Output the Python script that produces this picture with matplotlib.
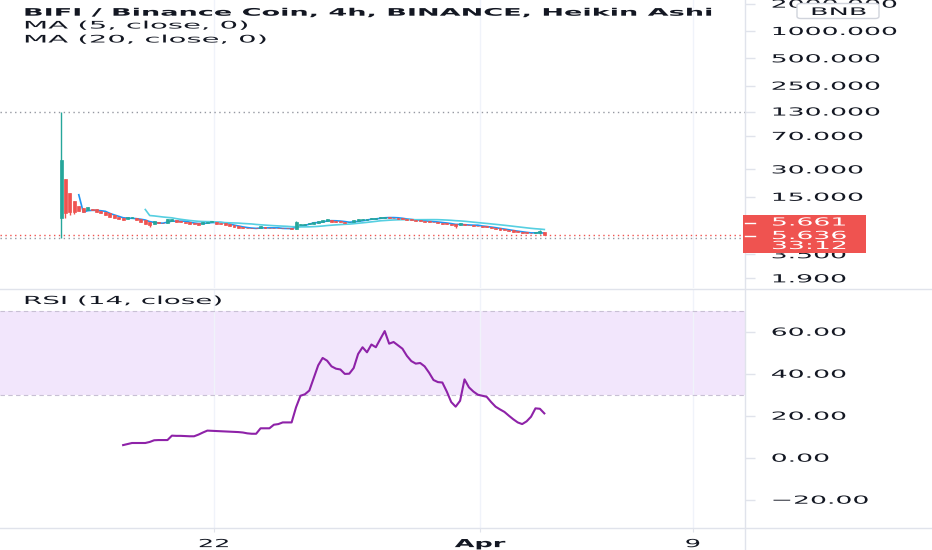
import numpy as np
import pandas as pd
import matplotlib
matplotlib.use("Agg")
import matplotlib.pyplot as plt
from matplotlib.patches import Rectangle, FancyBboxPatch
from matplotlib.lines import Line2D
from matplotlib.ticker import NullLocator
from matplotlib.patheffects import AbstractPathEffect
from matplotlib.transforms import Affine2D

# ---------------------------------
# Data (BIFI/BNB, 4h, Heikin Ashi)
# ---------------------------------
first_open = 8.77
closes = [
    38.1, 9.95, 10.2, 10.2, 10.5, 10.2, 11.6, 10.7, 10.2, 9.95,
    9.46, 8.99, 8.77, 8.55, 8.33, 8.99, 8.88, 8.33, 7.92, 7.53,
    7.34, 8.12, 7.72, 7.72, 8.55, 8.44, 7.92, 7.82, 7.72, 7.62,
    7.53, 7.43, 7.92, 8.02, 8.12, 7.62, 7.53, 7.34, 7.16, 6.98,
    6.81, 6.72, 6.72, 6.72, 6.72, 7.16, 6.81, 6.72, 6.72, 6.72,
    6.72, 6.72, 6.64, 7.92, 7.53, 7.62, 7.72, 8.02, 8.12, 8.23,
    8.55, 8.02, 7.92, 7.82, 7.72, 7.92, 8.33, 8.44, 8.44, 8.55,
    8.66, 8.77, 8.99, 9.10, 8.77, 8.66, 8.55, 8.44, 8.33, 8.23,
    8.12, 8.12, 8.02, 7.92, 7.82, 7.72, 7.62, 7.53, 7.34, 7.07,
    7.72, 7.34, 7.25, 7.16, 7.07, 6.98, 6.89, 6.72, 6.64, 6.47,
    6.39, 6.31, 6.15, 6.07, 6.00, 5.92, 5.92, 6.15, 6.23, 5.636,
]
# candles with visible wicks
wick_idx = [0, 1, 2, 3, 20, 53, 89, 108]
wick_hi = [130.0, 23.4, 16.7, 13.5, 7.5, 8.12, 7.3, 6.47]
wick_lo = [5.28, 8.77, 9.46, 9.70, 6.98, 6.55, 6.81, 5.85]

rsi_start = 14
rsi_vals = [
    6.0, 6.5, 7.0, 7.0, 7.0, 7.0, 7.5, 8.3, 8.4, 8.4,
    8.4, 10.5, 10.4, 10.4, 10.3, 10.2, 10.2, 11.0, 12.0, 12.9,
    12.8, 12.7, 12.6, 12.5, 12.4, 12.3, 12.2, 12.0, 11.6, 11.4,
    11.4, 14.0, 14.0, 14.0, 15.7, 16.0, 16.8, 16.8, 16.8, 24.0,
    29.5, 30.2, 32.0, 38.0, 44.0, 47.5, 46.2, 43.5, 42.4, 42.0,
    39.9, 40.0, 42.7, 49.4, 52.6, 50.2, 53.9, 52.6, 56.5, 60.3,
    54.3, 55.1, 53.5, 51.9, 48.5, 46.0, 44.8, 45.1, 43.5, 40.5,
    37.0, 36.0, 35.8, 31.5, 26.5, 24.3, 27.1, 37.3, 33.5, 31.5,
    30.0, 29.5, 29.0, 26.5, 24.3, 23.0, 21.8, 20.0, 18.3, 16.8,
    16.0, 17.3, 19.5, 23.5, 23.3, 21.1,
]

price_ticks = [1.9, 3.5, 15, 30, 70, 130, 250, 500, 1000, 2000]
rsi_ticks = [-20, 0, 20, 40, 60]
date_ticks = ["2021-03-22", "2021-04-01", "2021-04-09"]
date_labels = ["22", "Apr", "9"]
high_price = 130.0
low_price = 5.28
last_price = 5.636
alt_price = 5.661
countdown = "33:12"

GREEN = "#26a69a"
RED = "#ef5350"
TXT = "#131722"
LINE = "#e0e3eb"
W, H = 932, 550


# ---------------------------------
# the screenshot text is very wide; stretch glyphs horizontally
# ---------------------------------
class StretchX(AbstractPathEffect):
    def __init__(self, sx=2.4, center=False):
        super().__init__()
        self.sx = sx
        self.center = center

    def draw_path(self, renderer, gc, tpath, affine, rgbFace=None):
        ext = tpath.get_extents()
        cx = (ext.x0 + ext.x1) / 2 if self.center else 0
        st = Affine2D().translate(-cx, 0).scale(self.sx, 1).translate(cx, 0)
        renderer.draw_path(gc, tpath, st + affine, rgbFace)


def fx(px):
    return px / W


def fy(py):
    return 1 - py / H


# ---------------------------------
# Heikin Ashi candles
# ---------------------------------
n = len(closes)
times = pd.date_range("2021-03-16 06:00", periods=n, freq="4h")
opens = [first_open]
for c in closes[:-1]:
    opens.append((opens[-1] + c) / 2)
opens = np.array(opens)
closes_a = np.array(closes)
body_lo = np.minimum(opens, closes_a)
highs = np.maximum(opens, closes_a)
lows = body_lo.copy()
for k, i in enumerate(wick_idx):
    highs[i] = max(highs[i], wick_hi[k])
    lows[i] = min(lows[i], wick_lo[k])
colors = np.where(closes_a >= opens, GREEN, RED)

ma5 = pd.Series(closes).rolling(5).mean()
ma20 = pd.Series(closes).rolling(20).mean()

fig = plt.figure(figsize=(9.32, 5.5), dpi=100)
ax_p = fig.add_axes([0, fy(288), fx(745), 288 / H])
ax_r = fig.add_axes([0, fy(528), fx(745), (528 - 290) / H])

ref = pd.Timestamp("2021-03-22")
xlim = (ref - pd.Timedelta(days=8.045), ref + pd.Timedelta(days=19.96))
tick_dates = pd.to_datetime(date_ticks)

for ax in (ax_p, ax_r):
    for s in ax.spines.values():
        s.set_visible(False)
    ax.set_xlim(*xlim)
    ax.set_xticks(tick_dates)
    ax.grid(axis="x", color="#f0f3fa", lw=1)
    ax.set_axisbelow(True)
    ax.yaxis.tick_right()
    ax.tick_params(axis="y", length=7, width=1, color=LINE, pad=11.5,
                   labelsize=8, labelcolor=TXT)

# ---------------------------------
# Price pane
# ---------------------------------
ax_p.set_yscale("log")
ax_p.set_ylim(1.488, 2193)
ax_p.yaxis.set_minor_locator(NullLocator())
ax_p.set_yticks(price_ticks)
ax_p.set_yticklabels([f"{v:.3f}" for v in price_ticks])
ax_p.tick_params(axis="x", labelbottom=False, length=0)

ax_p.plot(times, ma5, color="#2196f3", lw=1.2, zorder=2)
ax_p.plot(times, ma20, color="#56cfe1", lw=1.2, zorder=2)
ax_p.vlines(times, lows, highs, colors=colors, lw=1, zorder=3)
ax_p.bar(times, np.abs(closes_a - opens), bottom=body_lo,
         width=0.11, color=colors, edgecolor=colors, lw=0.5, zorder=3)

ax_p.axhline(high_price, color="#9598a1", ls=(0, (1, 2.5)), lw=1, zorder=1)
ax_p.axhline(low_price, color="#9598a1", ls=(0, (1, 2.5)), lw=1, zorder=1)
ax_p.axhline(last_price, color=RED, ls=(0, (1, 2.5)), lw=1, zorder=1)

# ---------------------------------
# RSI pane
# ---------------------------------
ax_r.set_ylim(-33.48, 79.86)
ax_r.axhspan(30, 70, color="#f2e6fc", lw=0, zorder=0)
ax_r.axhline(70, color="#c8c0d4", ls=(0, (4, 3)), lw=0.8)
ax_r.axhline(30, color="#c8c0d4", ls=(0, (4, 3)), lw=0.8)
ax_r.plot(times[rsi_start:], rsi_vals, color="#8e22a8", lw=1.5, zorder=3)
ax_r.set_yticks(rsi_ticks)
ax_r.set_yticklabels([f"{v:.2f}".replace("-", "\u2212") for v in rsi_ticks])
ax_r.set_xticklabels(date_labels)
ax_r.tick_params(axis="x", length=3, color=LINE, pad=5, labelsize=8, labelcolor=TXT)
ax_r.get_xticklabels()[1].set_fontweight("bold")

for ax in (ax_p, ax_r):
    for lbl in ax.get_yticklabels():
        lbl.set_path_effects([StretchX(2.4)])
for lbl in ax_r.get_xticklabels():
    lbl.set_path_effects([StretchX(2.3, center=True)])

# ---------------------------------
# Pane borders
# ---------------------------------
fig.add_artist(Line2D([0, 1], [fy(289)] * 2, color=LINE, lw=1))
fig.add_artist(Line2D([0, 1], [fy(528)] * 2, color=LINE, lw=1))
fig.add_artist(Line2D([fx(745)] * 2, [0, 1], color=LINE, lw=1))

# ---------------------------------
# Legends / labels
# ---------------------------------
fig.text(fx(23), fy(12.7), "BIFI / Binance Coin, 4h, BINANCE, Heikin Ashi",
         fontsize=7.5, fontweight="bold", color=TXT, va="center",
         path_effects=[StretchX(2.6)])
fig.text(fx(23), fy(25.5), "MA (5, close, 0)", fontsize=7.5, color=TXT,
         va="center", path_effects=[StretchX(2.8)])
fig.text(fx(23), fy(39.5), "MA (20, close, 0)", fontsize=7.5, color=TXT,
         va="center", path_effects=[StretchX(2.8)])
fig.text(fx(23), fy(301), "RSI (14, close)", fontsize=8, color=TXT,
         va="center", path_effects=[StretchX(2.5)])

# currency badge (sits over the clipped 2000.000 label, as in the screenshot)
fig.add_artist(FancyBboxPatch((fx(797), fy(18.5)), fx(82), 15 / H,
                              boxstyle="round,pad=0,rounding_size=0.004",
                              facecolor="white", edgecolor="#d1d4dc", lw=1, zorder=5))
fig.text(fx(810), fy(12), "BNB", fontsize=7.5, color=TXT, va="center", zorder=6,
         path_effects=[StretchX(2.6)])

# last price badge
fig.add_artist(Rectangle((fx(743), fy(253)), fx(123), 38 / H,
                         facecolor=RED, edgecolor="none", zorder=5))
for yy in (222.5, 235.5):
    fig.add_artist(Line2D([fx(745), fx(755)], [fy(yy)] * 2, color="white", lw=1, zorder=6))
for yy, s in ((222.5, f"{alt_price:.3f}"), (236, f"{last_price:.3f}"), (246, countdown)):
    fig.text(fx(771), fy(yy), s, fontsize=8, color="white", va="center", zorder=6,
             path_effects=[StretchX(2.4)])

fig.savefig("out.png", dpi=100)
